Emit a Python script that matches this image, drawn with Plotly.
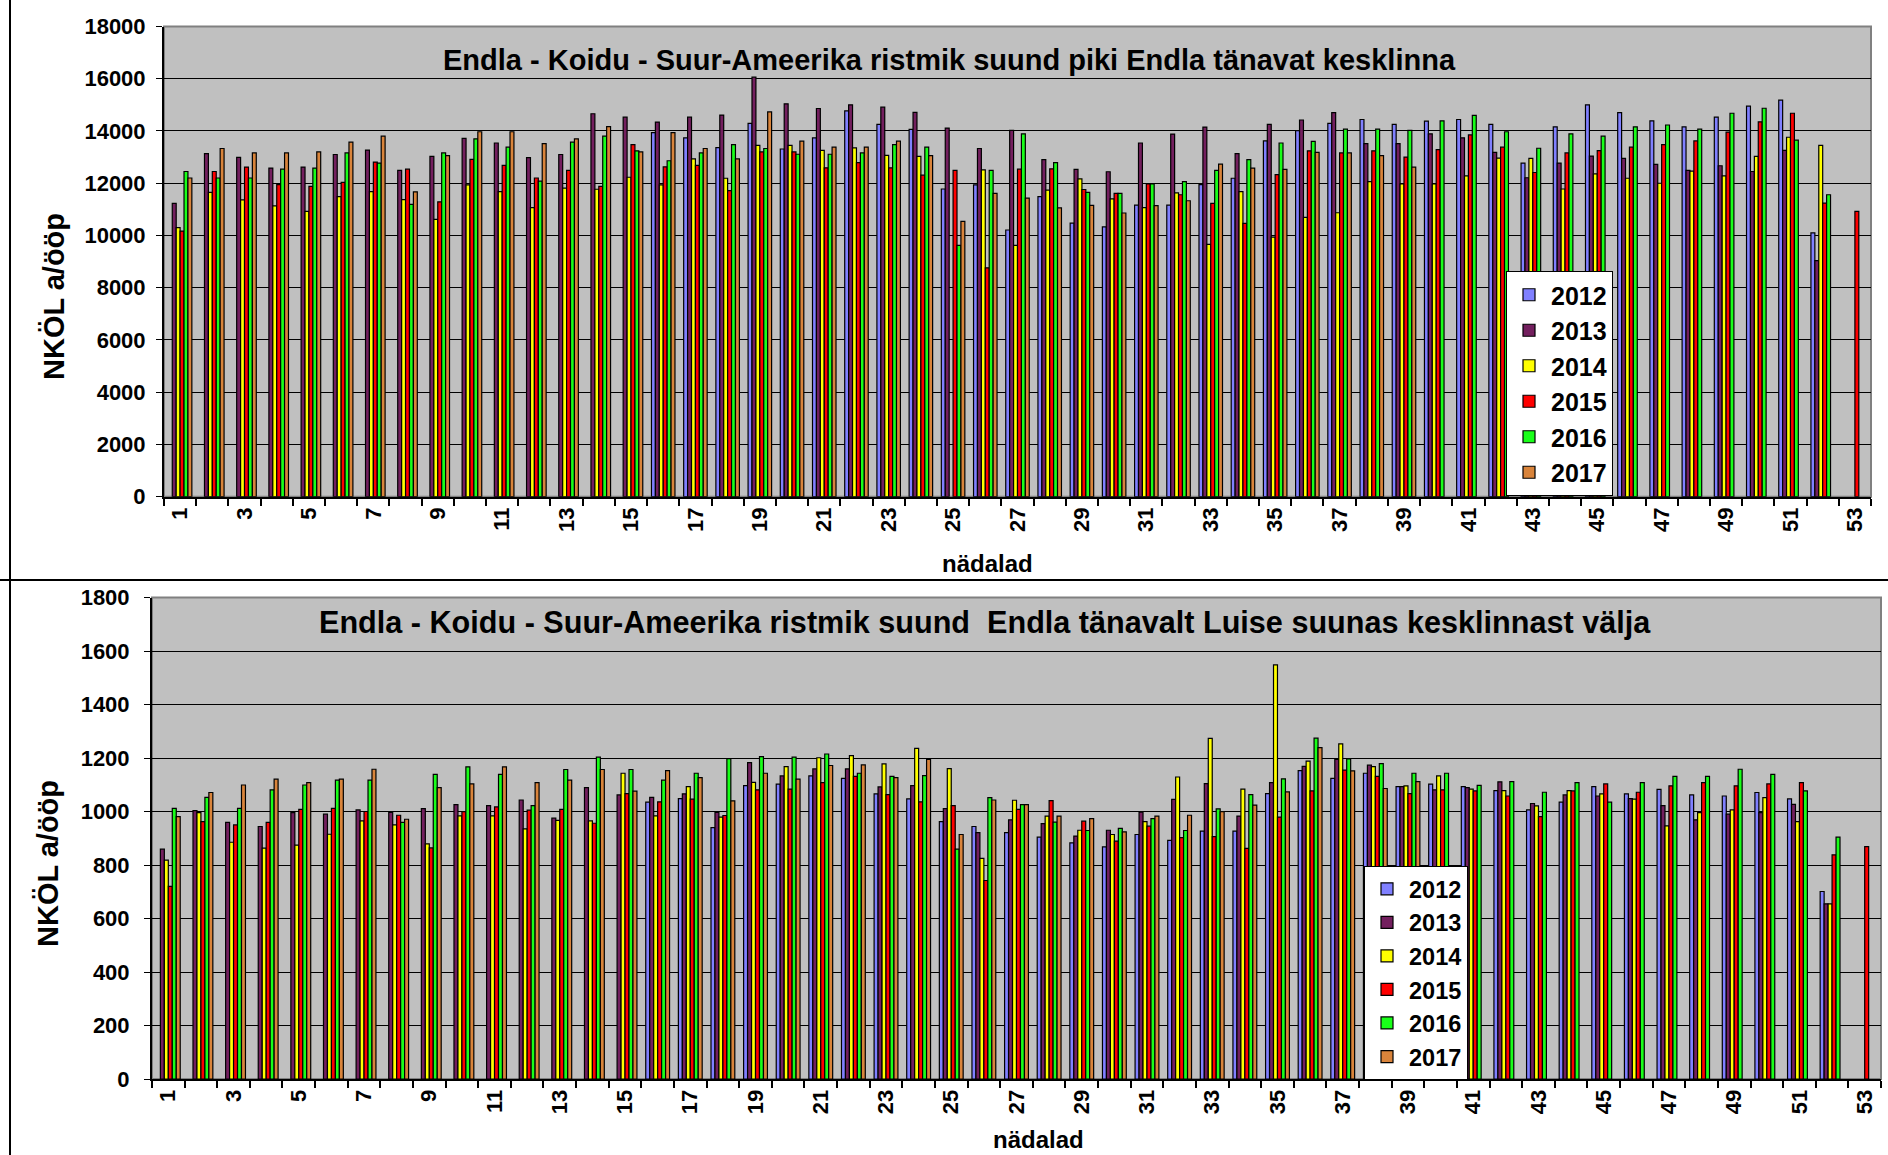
import plotly.graph_objects as go

weeks = list(range(1, 54))
years = ["2012", "2013", "2014", "2015", "2016", "2017"]
colors = ["#8080ff", "#731f5e", "#ffff00", "#ff0000", "#19ff19", "#d9843b"]
N = None

# ---------------- top chart: piki Endla tänavat kesklinna ----------------
top_2012 = [N, N, N, N, N, N, N, N, N, N, N, N, N, N, N,
            13940, 13740, 13360, 14290, 13310, 13740, 14770, 14250, 14060, 11780,
            11940, 10210, 11490, 10470, 10330, 11160, 11160, 11950, 12190, 13620,
            14010, 14290, 14440, 14250, 14380, 14440, 14250, 12770, 14160, 15000,
            14700, 14390, 14160, 14530, 14950, 15180, 10100, N]
top_2013 = [11230, 13130, 12990, 12580, 12620, 13100, 13270, 12490, 13030, 13720,
            13540, 12980, 13100, 14660, 14530, 14340, 14530, 14610, 16060, 15040,
            14860, 15000, 14910, 14710, 14110, 13330, 14020, 12900, 12530, 12440,
            13540, 13880, 14150, 13130, 14250, 14420, 14700, 13520, 13520, 13890,
            13740, 13180, 12210, 12770, 13040, 12950, 12720, 12490, 12670, 12450,
            13260, 9040, N]
top_2014 = [10300, 11650, 11360, 11130, 10920, 11490, 11680, 11370, 10620, 11940,
            11680, 11070, 11810, 11770, 12230, 11940, 12930, 12190, 13450, 13450,
            13260, 13350, 13070, 13030, N, 12510, 9620, 11740, 12170, 11400,
            11070, 11630, 9660, 11680, 9940, 10690, 10870, 12060, 11970, 11970,
            12280, 12960, 12950, 11780, 12360, 12190, 12000, 12460, 12280, 13030,
            13760, 13450, N]
top_2015 = [10170, 12450, 12620, 11950, 11880, 12030, 12810, 12540, 11290, 12910,
            12680, 12200, 12490, 11880, 13480, 12630, 12680, 11720, 13200, 13200,
            12590, 12790, 12590, 12310, 12490, 8760, 12540, 12550, 11760, 11610,
            11970, 11560, 11230, 10460, 12330, 13240, 13160, 13240, 13000, 13290,
            13850, 13380, 12410, 13160, 13250, 13380, 13480, 13620, 13960, 14350,
            14680, 11240, 10920]
top_2016 = [12450, 12200, 12200, 12540, 12580, 13160, 12770, 11190, 13160, 13700,
            13380, 12080, 13570, 13800, 13240, 12860, 13160, 13480, 13330, 13110,
            13110, 13160, 13480, 13380, 9620, 12490, 13890, 12790, 11650, 11610,
            11970, 12060, 12490, 12900, 13540, 13600, 14070, 14070, 14020, 14390,
            14600, 13970, 13340, 13890, 13800, 14160, 14230, 14070, 14680, 14870,
            13650, 11560, N]
top_2017 = [12200, 13330, 13160, 13160, 13200, 13570, 13800, 11670, 13060, 13970,
            13970, 13520, 13700, 14170, 13200, 13940, 13330, 12930, 14730, 13610,
            13380, 13380, 13610, 13060, 10540, 11610, 11430, 11060, 11150, 10860,
            11140, 11330, 12730, 12580, 12530, 13180, 13160, 13060, 12620, N,
            N, N, N, N, N, N, N, N, N, N, N, N, N]

# ---------------- bottom chart: Endla tänavalt Luise suunas ----------------
bot_2012 = [N, N, N, N, N, N, N, N, N, N, N, N, N, N, N,
            1035, 1048, 940, 1097, 1102, 1133, 1124, 1066, 1047, 962,
            944, 921, 904, 883, 868, 914, 892, 927, 927, 1067,
            1153, 1124, 1143, 1093, 1102, 1093, 1078, 1006, 1035, 1093,
            1066, 1083, 1062, 1058, 1071, 1047, 701, N]
bot_2013 = [859, 1003, 959, 944, 996, 990, 1006, 997, 1011, 1026,
            1022, 1043, 975, 1089, 1062, 1053, 1066, 997, 1183, 1133,
            1159, 1159, 1092, 1097, 1011, 921, 969, 955, 908, 930,
            998, 1045, 1104, 983, 1108, 1169, 1195, 1173, 1093, 1081,
            1089, 1111, 1030, 1062, 1058, 1048, 1022, 969, 990, 996,
            1027, 655, N]
bot_2014 = [818, 996, 885, 863, 874, 915, 965, 950, 879, 984,
            984, 935, 967, 965, 1143, 984, 1093, 979, 1109, 1168,
            1201, 1209, 1178, 1236, 1160, 825, 1042, 983, 930, 914,
            962, 1129, 1273, 1084, 1548, 1188, 1253, 1168, 1096, 1133,
            1084, 1078, 1021, 1078, 1066, 1046, 946, 996, 1006, 1052,
            962, 655, N]
bot_2015 = [720, 962, 950, 959, 1008, 1012, 1000, 986, 864, 999,
            1017, 1005, 1008, 956, 1067, 1036, 1046, 985, 1081, 1084,
            1108, 1131, 1063, 1036, 1022, 742, 1008, 1041, 964, 889,
            945, 902, 906, 862, 979, 1077, 1155, 1131, 1067, 1081,
            1077, 1058, 981, 1077, 1103, 1072, 1096, 1108, 1096, 1103,
            1108, 838, 869]
bot_2016 = [1012, 1053, 1012, 1081, 1099, 1117, 1117, 959, 1139, 1167,
            1139, 1022, 1157, 1203, 1157, 1117, 1143, 1198, 1205, 1203,
            1215, 1143, 1131, 1134, 859, 1052, 1026, 960, 929, 937,
            973, 929, 1010, 1063, 1122, 1274, 1197, 1179, 1143, 1143,
            1098, 1112, 1072, 1108, 1035, 1108, 1131, 1131, 1158, 1139,
            1077, 904, N]
bot_2017 = [981, 1071, 1099, 1121, 1108, 1121, 1158, 971, 1089, 1103,
            1167, 1108, 1117, 1157, 1076, 1153, 1127, 1040, 1143, 1121,
            1172, 1174, 1127, 1195, 914, 1043, 1026, 983, 973, 924,
            983, 986, 999, 1024, 1073, 1239, 1152, 1086, 1112, N,
            N, N, N, N, N, N, N, N, N, N, N, N, N]

top_series = [top_2012, top_2013, top_2014, top_2015, top_2016, top_2017]
bot_series = [bot_2012, bot_2013, bot_2014, bot_2015, bot_2016, bot_2017]

top_title = "Endla - Koidu - Suur-Ameerika ristmik suund piki Endla tänavat kesklinna"
bot_title = "Endla - Koidu - Suur-Ameerika ristmik suund&nbsp; Endla tänavalt Luise suunas kesklinnast välja"
y_title = "NKÖL a/ööp"
x_title = "nädalad"

odd_weeks = [w for w in weeks if w % 2 == 1]
odd_labels = [str(w) for w in odd_weeks]

W, H = 1888, 1155
FONT = "Liberation Sans, Arial, sans-serif"


def fx(x):
    return x / W


def fy(y):
    return 1 - y / H


fig = go.Figure()
for yr, col, vals in zip(years, colors, top_series):
    fig.add_trace(go.Bar(x=weeks, y=vals, name=yr, marker_color=col,
                         marker_line=dict(color="black", width=1.2),
                         xaxis="x", yaxis="y", legend="legend", legendgroup="t" + yr))
for yr, col, vals in zip(years, colors, bot_series):
    fig.add_trace(go.Bar(x=weeks, y=vals, name=yr, marker_color=col,
                         marker_line=dict(color="black", width=1.2),
                         xaxis="x2", yaxis="y2", legend="legend2", legendgroup="b" + yr))

tickfont = dict(family=FONT, size=22, color="black", weight="bold")

xcommon = dict(range=[0.5, 53.5], tickmode="array", tickvals=odd_weeks, ticktext=odd_labels,
               tickangle=-90, ticks="", showgrid=False, zeroline=False, automargin=False,
               showline=True, linecolor="black", linewidth=2, tickfont=tickfont,
               minor=dict(tick0=0.5, dtick=1, ticks="outside", ticklen=7,
                          tickcolor="black", tickwidth=1.5, showgrid=False))
ycommon = dict(showgrid=True, gridcolor="black", gridwidth=1.2, zeroline=False, automargin=False,
               showline=True, linecolor="black", linewidth=2, ticks="outside",
               ticklen=6, tickcolor="black", tickfont=tickfont, tickformat="d")

fig.update_layout(
    width=W, height=H, margin=dict(l=0, r=0, t=0, b=0, autoexpand=False),
    paper_bgcolor="white", plot_bgcolor="#c0c0c0",
    barmode="group", bargap=0.27, bargroupgap=0.0,
    font=dict(family=FONT, color="black"),
    xaxis=dict(domain=[fx(164), fx(1871)], anchor="y", **xcommon),
    yaxis=dict(domain=[fy(496.7), fy(26.5)], anchor="x", range=[0, 18000], dtick=2000,
               ticklabelstandoff=6, **ycommon),
    xaxis2=dict(domain=[fx(152), fx(1881)], anchor="y2", **xcommon),
    yaxis2=dict(domain=[fy(1079), fy(597.5)], anchor="x2", range=[0, 1800], dtick=200,
                ticklabelstandoff=10, **ycommon),
    legend=dict(x=fx(1506), y=fy(271), xanchor="left", yanchor="top", bgcolor="white",
                bordercolor="black", borderwidth=1, tracegroupgap=0, itemwidth=34,
                font=dict(family=FONT, size=25, color="black", weight="bold")),
    legend2=dict(x=fx(1364), y=fy(866), xanchor="left", yanchor="top", bgcolor="white",
                 bordercolor="black", borderwidth=1, tracegroupgap=0, itemwidth=34,
                 font=dict(family=FONT, size=23.5, color="black", weight="bold")),
)

axt_font = dict(family=FONT, size=29, color="black", weight="bold")
xt_font = dict(family=FONT, size=24, color="black", weight="bold")
fig.add_annotation(x=fx(949), y=fy(60), xref="paper", yref="paper", text=top_title,
                   showarrow=False, font=dict(family=FONT, size=29, color="black", weight="bold"),
                   xanchor="center", yanchor="middle")
fig.add_annotation(x=fx(985), y=fy(622), xref="paper", yref="paper", text=bot_title,
                   showarrow=False, font=dict(family=FONT, size=30.6, color="black", weight="bold"),
                   xanchor="center", yanchor="middle")
fig.add_annotation(x=fx(54), y=fy(297), xref="paper", yref="paper", text=y_title,
                   showarrow=False, font=axt_font, textangle=-90, xanchor="center", yanchor="middle")
fig.add_annotation(x=fx(48), y=fy(864), xref="paper", yref="paper", text=y_title,
                   showarrow=False, font=axt_font, textangle=-90, xanchor="center", yanchor="middle")
fig.add_annotation(x=fx(987), y=fy(563), xref="paper", yref="paper", text=x_title,
                   showarrow=False, font=xt_font, xanchor="center", yanchor="middle")
fig.add_annotation(x=fx(1038), y=fy(1139), xref="paper", yref="paper", text=x_title,
                   showarrow=False, font=xt_font, xanchor="center", yanchor="middle")

# plot area frames (gray) and chart borders (black)
fig.add_shape(type="rect", xref="paper", yref="paper", x0=fx(164), x1=fx(1871), y0=fy(496.7), y1=fy(26.5),
              line=dict(color="#808080", width=2), layer="below")
fig.add_shape(type="rect", xref="paper", yref="paper", x0=fx(152), x1=fx(1881), y0=fy(1079), y1=fy(597.5),
              line=dict(color="#808080", width=2), layer="below")
fig.add_shape(type="line", xref="paper", yref="paper", x0=0, x1=1, y0=fy(580), y1=fy(580),
              line=dict(color="black", width=2))
fig.add_shape(type="line", xref="paper", yref="paper", x0=fx(10), x1=fx(10), y0=0, y1=1,
              line=dict(color="black", width=2))

fig.write_html("out.html", config={"displayModeBar": False},
               post_script="document.body.style.margin='0';document.body.style.overflow='hidden';")
